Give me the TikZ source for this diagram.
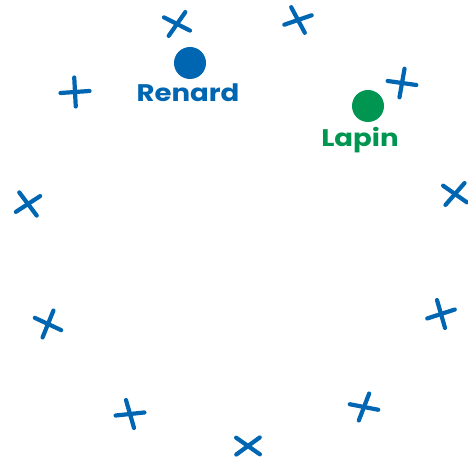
\documentclass[tikz,border=0pt]{standalone}
\usepackage{fontspec}
\setmainfont{Poppins}[FakeStretch=1.15]
\definecolor{cblue}{RGB}{0,102,178}
\definecolor{cgreen}{RGB}{0,150,82}
\begin{document}
\begin{tikzpicture}[x=1pt,y=1pt,
  strokeline/.style={draw=cblue,line width=4.2pt,line cap=round},
  pics/xmark/.style 2 args={code={
    \draw[strokeline] (#1:14.5) -- (#1+180:14.5);
    \draw[strokeline] (#2:14.5) -- (#2+180:14.5);}},
  dot/.style={circle,inner sep=0pt,minimum size=32pt},
  lbl/.style={font=\bfseries\fontsize{24}{28}\selectfont,anchor=base,inner sep=0pt}]
\useasboundingbox (0,0) rectangle (468,460);
% crosses (image y converted: 460 - y)
\pic at (177,436) {xmark={-27}{55}};
\pic at (298,440) {xmark={19}{-62}};
\pic at (402,377) {xmark={-8}{80}};
\pic at (75,368) {xmark={4}{93}};
\pic at (28,256) {xmark={33}{-53}};
\pic at (455,266) {xmark={-35}{49}};
\pic at (441,146) {xmark={18}{-74}};
\pic at (48,136) {xmark={-25}{68}};
\pic at (130,46) {xmark={6}{-74}};
\pic at (248,14) {xmark={-35}{36}};
\pic at (364,53) {xmark={-11}{69}};
% animals
\node[dot,fill=cblue] (renard) at (190,397) {};
\node[lbl,text=cblue] (renardlbl) at (188,358) {Renard};
\node[dot,fill=cgreen] (lapin) at (368,354) {};
\node[lbl,text=cgreen] (lapinlbl) at (360,313) {Lapin};
\end{tikzpicture}
\end{document}
